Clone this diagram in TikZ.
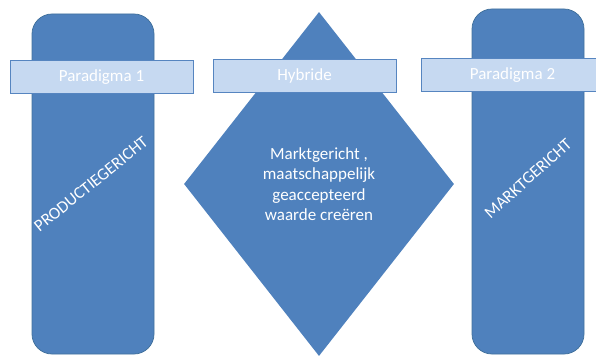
\documentclass[tikz,border=0pt]{standalone}
\usepackage{fontspec}
\setmainfont{Carlito}
\usetikzlibrary{shapes.geometric}

\definecolor{shape fill}{HTML}{4F81BD}
\definecolor{shape edge}{HTML}{41719C}
\definecolor{bar fill}{HTML}{C6D9F1}
\definecolor{bar edge}{HTML}{5685C0}
\tikzset{
  column/.style={draw=shape edge, fill=shape fill, line width=0.75pt, rounded corners=20pt, inner sep=0pt},
  bar/.style={draw=bar edge, fill=bar fill, line width=1pt, minimum width=183pt, minimum height=33pt, text=white, font=\fontsize{17}{20}\selectfont},
  slanted/.style={text=white, font=\fontsize{17}{20}\selectfont}
  }

\begin{document}
\begin{tikzpicture}[x=1pt, y=1pt]
  \useasboundingbox (0, 0) rectangle (596, 356);
  \clip (0, 0) rectangle (596, 356);

  % columns and diamond
  \node[column, minimum width=122pt, minimum height=340pt] (prod) at (93, 172) {};
  \node[column, minimum width=112pt, minimum height=345pt] (markt) at (528, 174.5) {};
  \node[diamond, fill=shape fill, inner sep=0pt, minimum width=270pt, minimum height=344pt,
        text=white, align=center, font=\fontsize{17}{20.5}\selectfont] (hybrid) at (319, 172)
        {Marktgericht ,\\maatschappelijk\\geaccepteerd\\waarde creëren};

  \node[slanted, rotate=39] (prodtext) at ([xshift=-2pt]prod.center) {PRODUCTIEGERICHT};
  \node[slanted, rotate=42] (markttext) at ([yshift=3pt]markt.center) {MARKTGERICHT};

  % label bars
  \foreach \pos/\name/\text in {{(101.5, 279)/par1/Paradigma 1}, {(304.5, 280)/hyb/Hybride}, {(512.5, 281)/par2/Paradigma 2}} {
    \node[bar] (\name) at \pos {\text};
  }
\end{tikzpicture}
\end{document}
